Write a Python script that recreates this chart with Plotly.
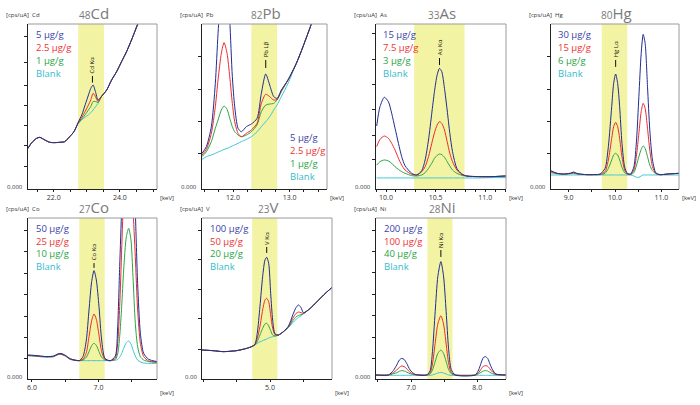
import plotly.graph_objects as go

W, H = 700, 405

# ---------------- data (keV, relative intensity in % of axis height) ----------------
CD_KEV = [21.22,21.32,21.48,21.58,21.73,21.88,22.03,22.18,22.33,22.48,22.61,22.74,22.85,22.95,23.05,23.12,23.19,23.26,23.34,23.44,23.60,23.75,23.90,24.05,24.20,24.35,24.45,24.54,24.90]
CD_HI = [24.6,27.7,30.7,31.3,29.7,28.3,28.1,28.3,28.7,31.7,34.7,40.5,45.0,51.0,57.0,61.0,63.0,59.0,54.0,56.0,60.0,66.1,71.1,77.2,83.2,90.3,95.4,100,115]
CD_MID = [24.6,27.7,30.7,31.3,29.7,28.3,28.1,28.3,28.7,31.7,34.7,40.0,43.5,47.0,51.0,54.0,58.0,56.0,53.0,56.0,60.0,66.1,71.1,77.2,83.2,90.3,95.4,100,115]
CD_LO = [24.6,27.7,30.7,31.3,29.7,28.3,28.1,28.3,28.7,31.7,34.7,39.8,42.5,45.0,48.0,50.0,53.0,53.0,52.5,56.0,60.0,66.1,71.1,77.2,83.2,90.3,95.4,100,115]
CD_BL = [24.6,27.7,30.7,31.3,29.7,28.3,28.1,28.3,28.7,31.7,34.7,39.8,42.0,43.5,45.0,46.3,47.9,49.8,51.9,56.0,60.0,66.1,71.1,77.2,83.2,90.3,95.4,100,115]

PB_KEV = [11.453,11.530,11.618,11.688,11.736,11.794,11.842,11.895,11.942,11.988,12.030,12.089,12.148,12.236,12.324,12.424,12.500,12.577,12.647,12.718,12.777,12.853,12.971,13.118,13.235,13.382,13.529]
PB_HI = [21.6,25.7,37.8,64.0,94.3,124.6,144.8,124.6,102.4,68.1,49.9,36.8,34.7,37.8,39.4,42.8,58.0,69.7,63.0,56.0,54.9,60.0,66.1,76.2,86.3,100,114.5]
PB_MID = [20.6,24.0,33.7,49.9,66.1,82.2,88.7,82.2,68.1,51.9,40.8,33.7,31.7,33.7,35.8,39.8,51.9,57.4,56.0,53.9,54.3,59.6,66.1,76.2,86.3,100,114.5]
PB_LO = [19.6,22.6,28.7,36.8,41.8,47.9,50.3,48.3,42.8,37.8,34.7,32.7,31.7,32.7,34.7,38.8,46.9,50.9,51.5,51.9,53.9,59.0,66.1,76.2,86.3,100,114.5]
PB_BL = [18.0,19.6,20.6,21.6,22.4,23.2,24.0,24.6,25.3,26.1,26.7,27.7,28.7,30.1,31.7,34.7,37.8,40.8,43.8,47.9,50.9,56.0,64.0,76.2,86.3,100,114.5]

AS_KEV = [9.906,9.939,9.983,10.024,10.057,10.091,10.125,10.158,10.192,10.259,10.310,10.360,10.394,10.428,10.461,10.488,10.515,10.539,10.562,10.589,10.616,10.643,10.670,10.714,10.764,10.815,10.933,11.067,11.209]
AS_HI = [38.2,49.9,55.6,52.9,45.9,36.8,27.7,19.6,14.1,9.5,8.5,11.1,17.6,29.7,45.9,59.0,69.1,73.1,71.1,61.0,47.9,33.7,22.6,12.5,9.1,7.9,7.5,7.5,7.9]
AS_MID = [25.7,30.1,32.1,30.7,27.7,23.6,18.6,14.5,11.5,8.9,8.5,10.5,13.5,19.6,27.7,34.1,38.8,40.8,39.8,35.8,28.7,21.6,16.6,11.5,8.7,7.9,7.5,7.5,7.9]
AS_LO = [14.5,16.6,17.6,17.0,15.6,13.5,11.9,10.5,9.5,8.1,7.9,8.5,9.9,12.5,15.6,18.6,20.4,21.2,20.8,19.2,16.6,13.9,11.5,9.5,8.3,7.7,7.5,7.5,7.9]
AS_BL = [6.7,6.7,6.7,6.7,6.7,6.7,6.7,6.7,6.7,6.7,6.7,6.7,6.7,6.7,6.7,6.7,6.7,6.7,6.7,6.7,6.7,6.7,6.7,6.7,6.7,6.7,6.7,6.9,6.9]

HG_KEV = [8.622,8.751,8.894,9.036,9.108,9.179,9.286,9.393,9.536,9.679,9.786,9.857,9.929,9.971,10.014,10.057,10.100,10.150,10.207,10.264,10.336,10.407,10.464,10.514,10.564,10.607,10.649,10.700,10.749,10.807,10.878,10.964,11.142,11.378]
HG_HI = [11.1,9.5,9.1,9.5,10.3,9.5,8.9,8.7,8.7,9.1,12.5,25.7,49.9,64.0,69.7,64.0,49.9,27.7,13.5,9.5,9.1,13.5,29.7,56.0,82.2,93.7,88.3,62.0,35.8,17.6,9.9,8.7,9.1,9.5]
HG_MID = [10.5,9.5,9.1,9.5,9.9,9.3,8.9,8.7,8.7,8.9,10.5,17.6,30.7,37.8,40.4,37.8,30.7,19.6,11.5,9.1,8.9,11.5,20.6,33.7,46.9,51.9,48.9,36.8,23.6,13.5,9.5,8.7,9.1,9.5]
HG_LO = [9.9,9.3,8.9,9.3,9.5,9.1,8.9,8.7,8.7,8.7,9.5,12.5,17.6,20.6,21.6,20.6,17.6,13.1,9.9,8.9,8.7,9.9,14.5,19.6,24.0,26.1,24.6,19.6,14.5,11.1,9.3,8.7,9.1,9.5]
HG_BL = [8.5,8.5,8.5,8.5,8.5,8.5,8.5,8.5,8.5,8.5,8.5,8.5,8.5,8.5,8.5,8.5,8.5,8.5,8.5,8.5,8.5,7.9,7.1,7.1,7.9,8.5,8.5,8.5,8.5,8.5,8.5,8.5,8.5,8.5]

CO_KEV = [5.939,6.025,6.125,6.225,6.325,6.385,6.436,6.501,6.576,6.711,6.766,6.817,6.857,6.897,6.932,6.967,7.007,7.047,7.097,7.177,7.253,7.288,7.318,7.348,7.378,7.418,7.453,7.488,7.518,7.553,7.588,7.629,7.679,7.754,7.879]
CO_HI = [14.9,14.7,14.3,13.9,14.3,15.5,15.9,14.7,12.6,11.4,13.9,24.2,42.9,60.5,67.3,61.5,44.9,24.2,12.8,11.4,14.3,32.5,69.8,107.0,152.6,194.0,214.7,194.0,152.6,104.9,59.4,28.4,15.9,12.2,10.8]
CO_MID = [14.7,14.5,14.1,13.9,14.1,15.3,15.5,14.5,12.4,11.4,12.2,16.4,26.3,36.2,40.4,37.1,27.3,17.0,12.2,11.4,13.0,22.2,44.9,80.1,115.3,142.2,152.6,142.2,107.0,76.0,42.9,22.2,13.9,11.2,10.4]
CO_LO = [14.5,14.3,13.9,13.7,13.9,15.1,15.3,14.3,12.2,11.4,11.8,13.5,17.0,20.7,22.2,20.9,17.0,13.5,11.8,11.4,12.2,15.5,26.3,44.9,67.7,88.4,93.6,86.3,63.6,34.6,20.1,13.9,11.8,10.8,10.4]
CO_BL = [14.5,14.3,13.9,13.7,13.9,15.1,15.3,14.3,12.2,11.4,11.4,11.4,11.4,11.4,11.4,11.4,11.4,11.4,11.4,11.4,11.6,12.2,13.5,15.9,19.0,22.6,23.6,21.7,18.0,14.3,11.8,10.6,9.9,9.7,9.7]

V_KEV = [3.975,4.141,4.293,4.495,4.646,4.722,4.773,4.808,4.848,4.889,4.924,4.950,4.980,5.010,5.040,5.076,5.126,5.202,5.278,5.343,5.394,5.429,5.465,5.505,5.606,5.707,5.808,5.934]
V_HI = [18.0,17.6,17.0,17.6,19.0,20.1,21.7,28.4,44.9,63.6,73.9,75.6,71.8,53.2,36.6,28.0,27.3,29.4,32.9,39.8,44.5,46.0,44.5,41.2,43.9,48.0,52.2,56.9]
V_MID = [18.0,17.6,17.0,17.6,19.0,20.1,21.3,25.3,32.5,42.9,49.1,50.1,48.0,39.8,31.5,27.5,27.3,29.4,32.5,37.7,40.8,41.6,41.2,40.8,43.9,48.0,52.2,56.9]
V_LO = [18.0,17.6,17.0,17.6,19.0,20.1,21.1,23.2,27.3,31.5,34.2,34.6,32.9,30.0,27.3,26.7,27.3,29.4,32.1,36.2,38.7,39.5,40.0,40.6,43.9,48.0,52.2,56.9]
V_BL = [18.0,17.6,17.0,17.6,19.0,20.1,21.1,22.2,23.0,23.8,24.4,24.8,25.5,25.9,26.3,26.7,27.3,29.4,31.9,35.0,37.1,38.3,39.3,40.6,43.9,48.0,52.2,56.9]

NI_KEV = [6.470,6.657,6.732,6.783,6.823,6.859,6.894,6.934,6.985,7.061,7.237,7.288,7.323,7.364,7.404,7.450,7.490,7.530,7.566,7.606,7.667,7.970,8.020,8.056,8.091,8.121,8.157,8.192,8.232,8.283,8.434]
NI_HI = [2.5,2.5,5.2,8.7,11.8,12.8,12.2,9.7,5.6,2.9,2.5,5.2,17.0,41.8,63.6,72.9,64.0,41.8,19.0,6.0,2.5,2.5,5.6,9.7,13.3,13.9,12.8,9.3,5.6,3.1,2.5]
NI_MID = [2.5,2.5,3.9,5.6,7.2,8.1,7.7,6.4,4.1,2.7,2.5,3.9,9.3,22.2,34.2,39.3,34.2,21.7,10.1,4.1,2.5,2.5,3.9,6.0,7.9,8.3,7.9,6.2,4.3,2.9,2.5]
NI_LO = [2.5,2.5,3.3,3.9,4.8,5.2,5.0,4.3,3.3,2.7,2.5,3.1,5.6,10.8,15.9,18.0,15.9,10.8,6.0,3.3,2.5,2.5,3.3,4.1,5.0,5.2,5.0,4.1,3.3,2.7,2.5]
NI_BL = [2.3,2.3,2.3,2.3,2.3,2.3,2.3,2.3,2.3,2.3,2.3,2.3,2.5,3.1,3.7,4.1,3.7,3.1,2.5,2.3,2.3,2.3,2.3,2.3,2.3,2.3,2.3,2.3,2.3,2.3,2.3]

CD_LEG = ["5 µg/g", "2.5 µg/g", "1 µg/g", "Blank"]
PB_LEG = ["5 µg/g", "2.5 µg/g", "1 µg/g", "Blank"]
AS_LEG = ["15 µg/g", "7.5 µg/g", "3 µg/g", "Blank"]
HG_LEG = ["30 µg/g", "15 µg/g", "6 µg/g", "Blank"]
CO_LEG = ["50 µg/g", "25 µg/g", "10 µg/g", "Blank"]
V_LEG = ["100 µg/g", "50 µg/g", "20 µg/g", "Blank"]
NI_LEG = ["200 µg/g", "100 µg/g", "40 µg/g", "Blank"]

# ---------------- styling ----------------
LINE_COLORS = ["#1f2d92", "#ee2a2a", "#2aa544", "#3cc6d2"]
TEXT_COLORS = ["#3b3fa6", "#ee3333", "#2aa544", "#34bccb"]
FONT = "Open Sans"
TOP_ROWS = [35, 47.7, 60.3, 73]
BOT_ROWS = [228.5, 241, 253.5, 266]

PANELS = [
    dict(num="48", sym="Cd", box=(28, 157, 24, 189), xr=(21.222, 25.121), band=(22.74, 23.52),
         xt=[22, 24], xtl=["22.0", "24.0"], minor=0.5,
         yt=[13.9, 26.1, 38.2, 50.5, 62.8, 76.4, 92.7],
         kev=CD_KEV, ys=[CD_HI, CD_MID, CD_LO, CD_BL], leg=CD_LEG, legpos=(35, TOP_ROWS),
         peak=(23.17, "Cd Kα", 64.5, 68.5), zero="0.000", title_y=13, kev_y=198),
    dict(num="82", sym="Pb", box=(202, 327, 24, 189), xr=(11.453, 13.658), band=(12.324, 12.777),
         xt=[12, 13], xtl=["12.0", "13.0"], minor=0.25,
         yt=[21.6, 41.2, 60.6, 80.6],
         kev=PB_KEV, ys=[PB_HI, PB_MID, PB_LO, PB_BL], leg=PB_LEG, legpos=(289, [137, 150, 163, 176]),
         peak=(12.577, "Pb Lβ", 73.3, 78.2), zero="0.000", title_y=13, kev_y=198),
    dict(num="33", sym="As", box=(376, 506, 24, 189), xr=(9.899, 11.209), band=(10.283, 10.791),
         xt=[10.0, 10.5, 11.0], xtl=["10.0", "10.5", "11.0"], minor=0.1,
         yt=[17.6, 32.7, 47.9, 63.4, 78.6, 94.3],
         kev=AS_KEV, ys=[AS_HI, AS_MID, AS_LO, AS_BL], leg=AS_LEG, legpos=(382, TOP_ROWS),
         peak=(10.539, "As Kα", 75.1, 79.4), zero="0.000", title_y=13, kev_y=198),
    dict(num="80", sym="Hg", box=(551, 679, 24, 189), xr=(8.622, 11.378), band=(9.715, 10.264),
         xt=[9, 10, 11], xtl=["9.0", "10.0", "11.0"], minor=0.5,
         yt=[21.6, 41.2, 60.6, 80.6],
         kev=HG_KEV, ys=[HG_HI, HG_MID, HG_LO, HG_BL], leg=HG_LEG, legpos=(557, TOP_ROWS),
         peak=(10.014, "Hg Lα", 74.0, 78.2), zero="0.000", title_y=13, kev_y=198),
    dict(num="27", sym="Co", box=(28, 157, 218, 379), xr=(5.94, 7.879), band=(6.711, 7.092),
         xt=[6, 7], xtl=["6.0", "7.0"], minor=0.5,
         yt=[12.6, 25.9, 39.1, 52.6, 65.6, 79.1, 92.5],
         kev=CO_KEV, ys=[CO_HI, CO_MID, CO_LO, CO_BL], leg=CO_LEG, legpos=(35, BOT_ROWS),
         peak=(6.932, "Co Kα", 69.0, 72.0), zero="0.000", title_y=207, kev_y=393),
    dict(num="23", sym="V", box=(202, 332, 218, 379), xr=(3.975, 5.934), band=(4.732, 5.111),
         xt=[4.0, 4.5, 5.0, 5.5], xtl=["", "", "5.0", ""], minor=None,
         yt=[18.6, 37.3, 55.7, 74.3, 92.5],
         kev=V_KEV, ys=[V_HI, V_MID, V_LO, V_BL], leg=V_LEG, legpos=(209, BOT_ROWS),
         peak=(4.95, "V Kα", 78.3, 82.0), zero="0.00", title_y=207, kev_y=393),
    dict(num="28", sym="Ni", box=(376, 506, 218, 379), xr=(6.47, 8.434), band=(7.247, 7.626),
         xt=[7, 8], xtl=["7.0", "8.0"], minor=0.5,
         yt=[12.6, 25.9, 39.3, 52.6, 66.0, 79.1, 92.5],
         kev=NI_KEV, ys=[NI_HI, NI_MID, NI_LO, NI_BL], leg=NI_LEG, legpos=(383, BOT_ROWS),
         peak=(7.45, "Ni Kα", 75.8, 80.1), zero="0.000", title_y=207, kev_y=393),
]


def px(x):
    return x / W


def py(y):
    return 1 - y / H


fig = go.Figure()
shapes = []
annotations = []
layout_axes = {}

for i, p in enumerate(PANELS):
    n = i + 1
    sx = "" if n == 1 else str(n)
    xref, yref = "x" + sx, "y" + sx
    x0, x1, y0, y1 = p["box"]

    # traces: blank first, highest concentration on top
    for k in [3, 2, 1, 0]:
        fig.add_trace(go.Scatter(
            x=p["kev"], y=p["ys"][k], mode="lines", xaxis=xref, yaxis=yref,
            line=dict(color=LINE_COLORS[k], width=1.0, shape="spline", smoothing=0.7),
            showlegend=False, hoverinfo="skip"))

    xa = dict(domain=[px(x0), px(x1)], anchor=yref, range=list(p["xr"]),
              showgrid=False, zeroline=False, showline=True, linecolor="#222", linewidth=1,
              ticks="outside", ticklen=2, tickcolor="#222", tickwidth=1,
              tickmode="array", tickvals=p["xt"], ticktext=p["xtl"],
              tickfont=dict(family=FONT, size=7, color="#333"))
    if p["minor"]:
        xa["minor"] = dict(tickmode="linear", tick0=0, dtick=p["minor"], ticks="outside",
                           ticklen=2, tickcolor="#222")
    ya = dict(domain=[py(y1), py(y0)], anchor=xref, range=[0, 100],
              showgrid=False, zeroline=False, showline=True, linecolor="#222", linewidth=1,
              ticks="outside", ticklen=3, tickcolor="#222", tickwidth=1,
              tickmode="array", tickvals=p["yt"], showticklabels=False)
    layout_axes["xaxis" + sx] = xa
    layout_axes["yaxis" + sx] = ya

    # yellow band
    shapes.append(dict(type="rect", xref=xref, yref=yref + " domain", x0=p["band"][0], x1=p["band"][1],
                       y0=0, y1=1, fillcolor="#f3f3a4", line=dict(width=0), layer="below"))
    # top / right frame
    shapes.append(dict(type="line", xref="paper", yref="paper", x0=px(x0), x1=px(x1), y0=py(y0), y1=py(y0),
                       line=dict(color="#9a9a9a", width=1)))
    shapes.append(dict(type="line", xref="paper", yref="paper", x0=px(x1), x1=px(x1), y0=py(y0), y1=py(y1),
                       line=dict(color="#9a9a9a", width=1)))
    # peak marker
    pk, pklab, ly0, ly1 = p["peak"]
    shapes.append(dict(type="line", xref=xref, yref=yref, x0=pk, x1=pk, y0=ly0, y1=ly1,
                       line=dict(color="#111", width=1)))
    annotations.append(dict(xref=xref, yref=yref, x=pk, y=ly1 + 0.8, text=pklab, showarrow=False,
                            textangle=-90, font=dict(family=FONT, size=6, color="#111"),
                            xanchor="center", yanchor="bottom", borderpad=0))

    # legend text
    lx, lys = p["legpos"]
    for k in range(4):
        annotations.append(dict(xref="paper", yref="paper", x=px(lx), y=py(lys[k]), text=p["leg"][k],
                                showarrow=False, xanchor="left", yanchor="middle", borderpad=0,
                                font=dict(family=FONT, size=9.5, color=TEXT_COLORS[k])))

    # title
    annotations.append(dict(xref="paper", yref="paper", x=px((x0 + x1) / 2 + 1), y=py(p["title_y"]),
                            text="<span style='font-size:10px'>" + p["num"] + "</span>" + p["sym"],
                            showarrow=False, xanchor="center", yanchor="middle",
                            font=dict(family=FONT, size=15, color="#7a7a7a")))
    # unit labels
    annotations.append(dict(xref="paper", yref="paper", x=px(x0 - 24), y=py(p["title_y"] + 2),
                            text="[cps/uA]  " + p["sym"], showarrow=False, xanchor="left", yanchor="middle",
                            font=dict(family=FONT, size=6, color="#333")))
    annotations.append(dict(xref="paper", yref="paper", x=px(x0 - 3), y=py(y1 - 2),
                            text=p["zero"], showarrow=False, xanchor="right", yanchor="middle",
                            font=dict(family=FONT, size=6, color="#333")))
    annotations.append(dict(xref="paper", yref="paper", x=px(x1 + 1), y=py(p["kev_y"]),
                            text="[keV]", showarrow=False, xanchor="left", yanchor="middle",
                            font=dict(family=FONT, size=6, color="#333")))

fig.update_layout(
    width=W, height=H, margin=dict(l=0, r=0, t=0, b=0),
    paper_bgcolor="white", plot_bgcolor="white",
    shapes=shapes, annotations=annotations, showlegend=False,
    **layout_axes)

fig.write_html("out.html")
